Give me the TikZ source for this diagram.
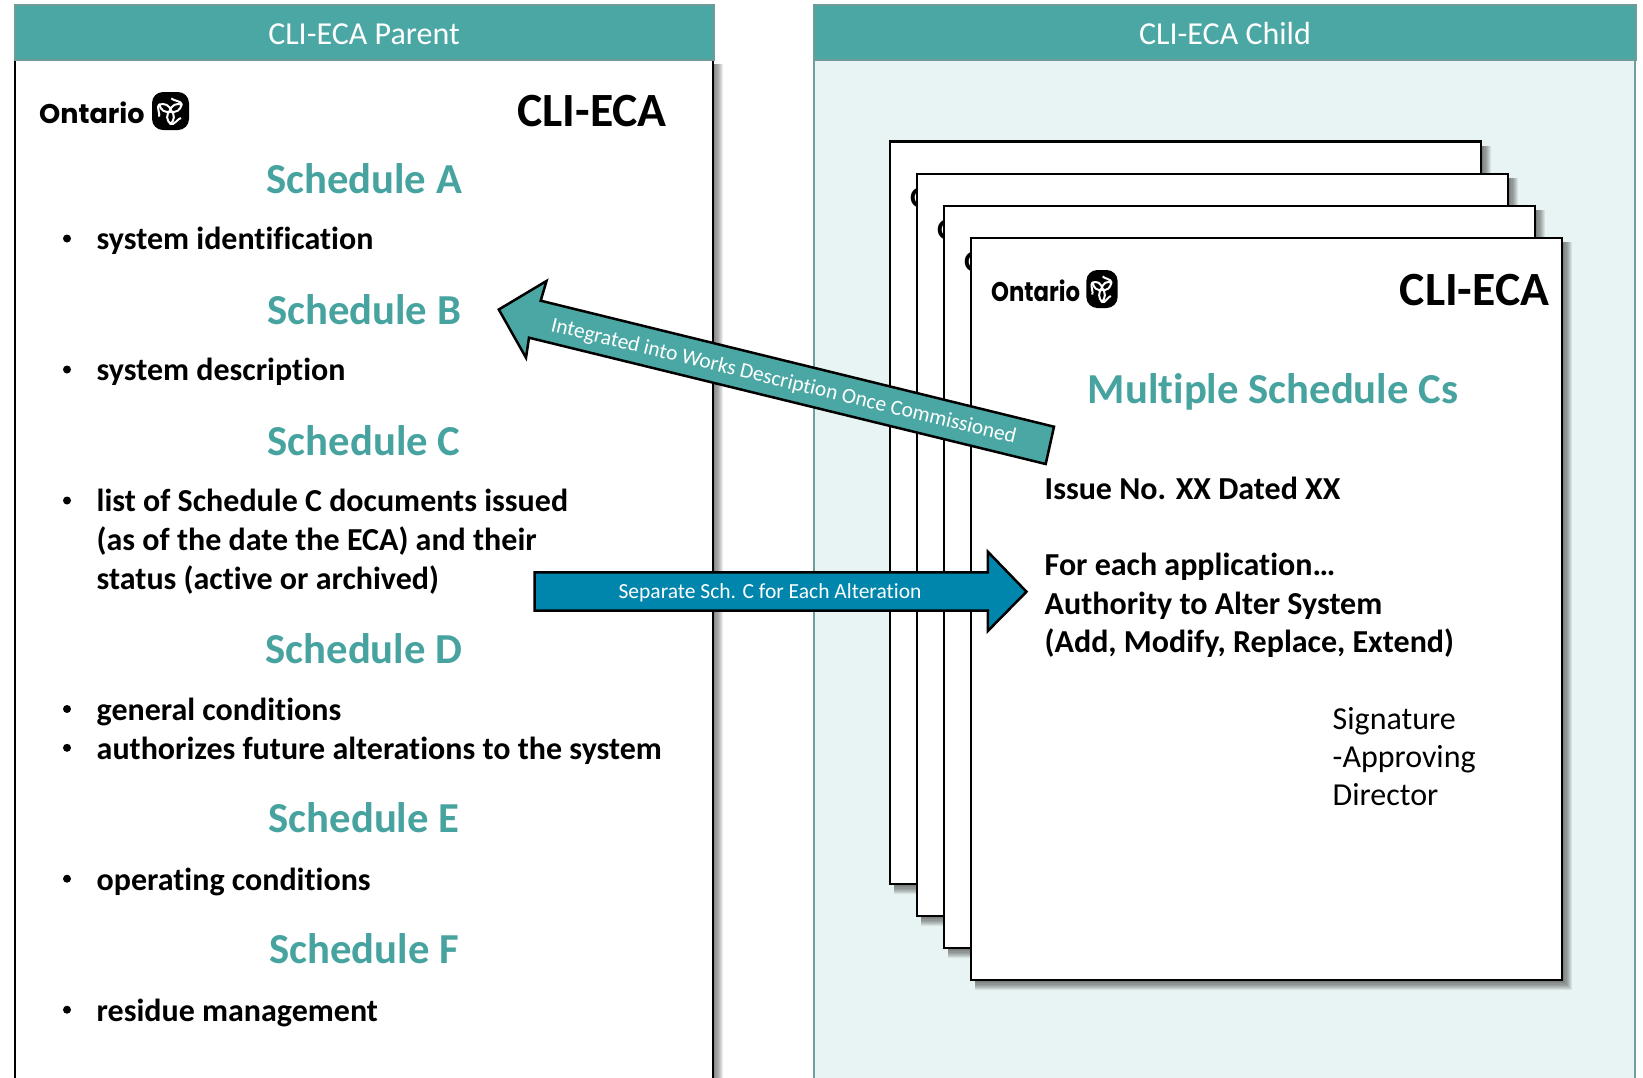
\documentclass[tikz,border=0pt]{standalone}
\usepackage{fontspec}
\setmainfont[Ligatures=NoCommon]{Carlito}
\newfontfamily\ontfont{Poppins}
\usetikzlibrary{calc}
\definecolor{teal1}{HTML}{4AA7A3}
\definecolor{tealtxt}{HTML}{47A39F}
\definecolor{bluearrow}{HTML}{0086AD}
\definecolor{paleteal}{HTML}{E8F4F3}
\definecolor{edge}{HTML}{6FA09D}
\definecolor{headedge}{HTML}{6E9C99}
\newcommand{\fpx}[1]{\fontsize{#1pt}{#1pt}\selectfont}
\newcommand{\softshadow}[4]{%
  \foreach \e in {0,1,...,9}{%
    \fill[black,opacity=.075] ({#1+4},{#2+4}) rectangle ({#3+10-1.1*\e},{#4+10-1.1*\e});
  }}
\tikzset{
  x=1pt,y=-1pt,
  headertext/.style={text=white,font=\fpx{32},anchor=base,inner sep=0pt},
  schedhead/.style={text=tealtxt,font=\fpx{42.7}\bfseries,anchor=base,inner sep=0pt,yshift=-2pt},
  bodytext/.style={text=black,font=\fpx{32}\bfseries,anchor=base west,inner sep=0pt,yshift=-1.5pt},
  bulletmark/.style={fill=black,circle,inner sep=0pt,minimum size=8pt},
  plaintext/.style={text=black,font=\fpx{32},anchor=base west,inner sep=0pt,yshift=-1pt},
  ecatitle/.style={text=black,font=\fpx{47.7}\bfseries,anchor=base,inner sep=0pt,yshift=1pt},
  arrowtext/.style={text=white,font=\fpx{21.5},anchor=center,inner sep=0pt},
  sheet/.style={fill=white,draw=black,line width=2.5pt},
  blockarrow/.style={draw=black,line width=2.5pt,line join=miter},
  ontmark/.pic={
    \node[anchor=base west,inner sep=0pt,font=\ontfont\fpx{27}\bfseries,transform shape] (-word) at (0,12) {Ontario};
    \begin{scope}[shift={(131.5,0)}]
      \fill[black,rounded corners=11pt] (-18.5,-19) rectangle (18.5,19);
      \begin{scope}[white,line width=2pt,line join=round]
        \foreach \r in {0,120,240}{
          \begin{scope}[rotate=\r]
            \draw (0,-1) .. controls (-5,4) and (-4,9) .. (0,13) .. controls (4,9) and (5,4) .. (0,-1);
            \draw (0,13) .. controls (3,15) and (8,7) .. (10.5,7);
          \end{scope}
        }
      \end{scope}
    \end{scope}
  },
}
\begin{document}
\begin{tikzpicture}
\useasboundingbox (0,0) rectangle (1643,1077);
\clip (0,0) rectangle (1643,1077);
% parent panel
\softshadow{15}{60}{713}{1090}
\fill[white] (15,60) rectangle (713,1090);
\draw[black,line width=2.5pt] (15,60) -- (15,1090) (713,60) -- (713,1090);
\fill[teal1] (15,5) rectangle (714,60);
\draw[headedge,line width=1.2pt] (15,60) -- (15,5) -- (714,5) -- (714,60) -- cycle;
\node[headertext] (parenthead) at (364,44) {CLI-ECA Parent};
% child panel
\fill[paleteal] (814,60) rectangle (1635,1090);
\draw[edge,line width=2pt] (814,60) -- (814,1090) (1635,60) -- (1635,1090);
\fill[teal1] (814,5) rectangle (1636,60);
\draw[headedge,line width=1.2pt] (814,60) -- (814,5) -- (1636,5) -- (1636,60) -- cycle;
\node[headertext] (childhead) at (1225,44) {CLI-ECA Child};
% parent content
\pic (plogo) at (39,111) {ontmark};
\node[ecatitle] (ptitle) at (592,127) {CLI-ECA};
\node[schedhead] (scha) at (364,191.7) {Schedule A};
\node[schedhead] (schb) at (364,322.7) {Schedule B};
\node[schedhead] (schc) at (364,453.7) {Schedule C};
\node[schedhead] (schd) at (364,661) {Schedule D};
\node[schedhead] (sche) at (364,830.8) {Schedule E};
\node[schedhead] (schf) at (364,961.8) {Schedule F};
\node[bulletmark] (b1) at (67,238.5) {};
\node[bodytext] (t1) at (96.5,248.3) {system identification};
\node[bulletmark] (b2) at (67,369.5) {};
\node[bodytext] (t2) at (96.5,379.3) {system description};
\node[bulletmark] (b3) at (67,500.5) {};
\node[bodytext] (t3) at (96.5,510.3) {list of Schedule C documents issued};
\node[bodytext] (t3b) at (96.5,549) {(as of the date the ECA) and their};
\node[bodytext] (t3c) at (96.5,587.8) {status (active or archived)};
\node[bulletmark] (b4) at (67,709) {};
\node[bodytext] (t4) at (96.5,718.8) {general conditions};
\node[bulletmark] (b5) at (67,747.8) {};
\node[bodytext] (t5) at (96.5,757.6) {authorizes future alterations to the system};
\node[bulletmark] (b6) at (67,878.7) {};
\node[bodytext] (t6) at (96.5,888.5) {operating conditions};
\node[bulletmark] (b7) at (67,1009.7) {};
\node[bodytext] (t7) at (96.5,1019.5) {residue management};
% stacked sheets
\softshadow{890}{141.7}{1481}{884}
\draw[sheet] (890,141.7) rectangle (1481,884);
\pic[xscale=.844] (logo1) at (910,195) {ontmark};
\softshadow{917}{174}{1508}{916}
\draw[sheet] (917,174) rectangle (1508,916);
\pic[xscale=.844] (logo2) at (937,227) {ontmark};
\softshadow{944}{206}{1535}{948}
\draw[sheet] (944,206) rectangle (1535,948);
\pic[xscale=.844] (logo3) at (964,259) {ontmark};
\softshadow{971}{238}{1562}{980}
\draw[sheet] (971,238) rectangle (1562,980);
\pic[xscale=.844] (logo4) at (991,289) {ontmark};
\node[ecatitle] (ctitle) at (1474.5,306) {CLI-ECA};
\node[schedhead] (multi) at (1273,401.3) {Multiple Schedule Cs};
\node[bodytext] (c1) at (1044.5,497.7) {Issue No. XX Dated XX};
\node[bodytext] (c2) at (1044.5,574.3) {For each application…};
\node[bodytext] (c3) at (1044.5,612.7) {Authority to Alter System};
\node[bodytext] (c4) at (1044.5,650.7) {(Add, Modify, Replace, Extend)};
\node[plaintext] (s1) at (1332.5,728) {Signature};
\node[plaintext] (s2) at (1332.5,766.7) {-Approving};
\node[plaintext] (s3) at (1332.5,804) {Director};
% arrows
\draw[blockarrow,fill=teal1] (498.8,309.5) -- (546.5,281) -- (540.7,300.7) -- (1054,426.7) -- (1045.7,464) -- (529,337.7) -- (526,357.7) -- cycle;
\node[arrowtext,rotate=-13.6] (integrated) at (783.5,381.7) {Integrated into Works Description Once Commissioned};
\draw[blockarrow,fill=bluearrow] (534.7,572.3) -- (987.8,572.3) -- (987.8,551.7) -- (1026.5,591.7) -- (987.8,631) -- (987.8,610.7) -- (534.7,610.7) -- cycle;
\node[arrowtext] (separate) at (770,592.7) {Separate Sch. C for Each Alteration};
\end{tikzpicture}
\end{document}
